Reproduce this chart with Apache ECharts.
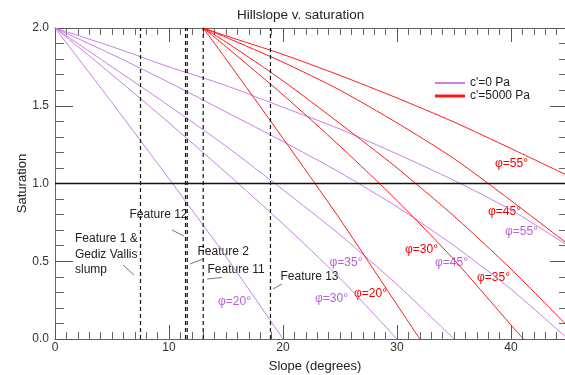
<!DOCTYPE html>
<html>
<head>
<meta charset="utf-8">
<script src="https://cdn.jsdelivr.net/npm/echarts@6/dist/echarts.min.js"></script>
<style>
  html, body { margin: 0; padding: 0; background: #fff; }
  #main { width: 565px; height: 375px; }
</style>
</head>
<body>
<div id="main"></div>
<script>
// c'=0 Pa curves (slope in degrees, saturation)
var slope0_20 = [0, 5, 10, 15, 20];
var sat0_20 = [2.0, 1.52, 1.03, 0.53, 0.0];
var slope0_30 = [0, 5, 10, 15, 20, 25, 30];
var sat0_30 = [2.0, 1.70, 1.39, 1.07, 0.74, 0.39, 0.0];
var slope0_35 = [0, 5, 10, 15, 20, 25, 30, 35];
var sat0_35 = [2.0, 1.75, 1.50, 1.24, 0.96, 0.67, 0.35, 0.0];
var slope0_45 = [0, 5, 10, 15, 20, 25, 30, 35, 40, 45];
var sat0_45 = [2.0, 1.83, 1.65, 1.46, 1.27, 1.07, 0.85, 0.60, 0.32, 0.0];
var slope0_55 = [0, 5, 10, 15, 20, 25, 30, 35, 40, 45];
var sat0_55 = [2.0, 1.88, 1.75, 1.63, 1.49, 1.35, 1.19, 1.02, 0.83, 0.60];

// c'=5000 Pa curves
var slope5_20 = [13, 15, 20, 25, 30, 32];
var sat5_20 = [2.0, 1.80, 1.29, 0.77, 0.22, 0.0];
var slope5_30 = [13, 15, 20, 25, 30, 35, 40, 41.1];
var sat5_30 = [2.0, 1.88, 1.57, 1.24, 0.89, 0.51, 0.09, 0.0];
var slope5_35 = [13, 15, 20, 25, 30, 35, 40, 45];
var sat5_35 = [2.0, 1.91, 1.66, 1.385, 1.10, 0.79, 0.45, 0.08];
var slope5_45 = [13, 15, 20, 25, 30, 35, 40, 45];
var sat5_45 = [2.0, 1.94, 1.78, 1.60, 1.39, 1.16, 0.89, 0.61];
var slope5_55 = [13, 15, 20, 25, 30, 35, 40, 45];
var sat5_55 = [2.0, 1.95, 1.83, 1.695, 1.55, 1.395, 1.225, 1.05];

// mapped features (slope, degrees)
var featureSlopes = [7.5, 11.45, 11.6, 13.0, 18.9];
var satLevel = 1.0;

var PURPLE = '#c97ee9';
var PURPLE_TXT = '#b462d8';
var RED = '#ff1a1a';
var RED_TXT = '#ee0000';
var FONT = 'Liberation Sans, Arial, sans-serif';

function pairs(xs, ys){
	var out = [];
	for (var i = 0; i < xs.length; i++) out.push([xs[i], ys[i]]);
	return out;
}

function curve(name, xs, ys, color){
	return {
		name: name, type: 'line', data: pairs(xs, ys),
		xAxisIndex: 0, yAxisIndex: 0,
		smooth: 0.25,
		showSymbol: false, symbol: 'none', silent: true,
		lineStyle: {color: color, width: 1},
		itemStyle: {color: color}
	};
}

var series = [
	curve("c'=0 Pa", slope0_20, sat0_20, PURPLE),
	curve("c'=0 Pa", slope0_30, sat0_30, PURPLE),
	curve("c'=0 Pa", slope0_35, sat0_35, PURPLE),
	curve("c'=0 Pa", slope0_45, sat0_45, PURPLE),
	curve("c'=0 Pa", slope0_55, sat0_55, PURPLE),
	curve("c'=5000 Pa", slope5_20, sat5_20, RED),
	curve("c'=5000 Pa", slope5_30, sat5_30, RED),
	curve("c'=5000 Pa", slope5_35, sat5_35, RED),
	curve("c'=5000 Pa", slope5_45, sat5_45, RED),
	curve("c'=5000 Pa", slope5_55, sat5_55, RED)
];

featureSlopes.forEach(function(s){
	series.push({
		type: 'line', silent: true, showSymbol: false, symbol: 'none',
		xAxisIndex: 0, yAxisIndex: 0,
		data: [[s, 0], [s, 2]],
		lineStyle: {color: '#111', width: 1.2, type: [4, 3]}
	});
});

series.push({
	type: 'line', silent: true, showSymbol: false, symbol: 'none',
	xAxisIndex: 0, yAxisIndex: 0,
	data: [[0, satLevel], [50, satLevel]],
	lineStyle: {color: '#111', width: 1.5}
});

function txt(s, x, y, color){
	return {
		type: 'text', x: x, y: y, silent: true,
		style: {text: s, fill: color || '#222', font: '12px ' + FONT, align: 'left', verticalAlign: 'middle'}
	};
}
function lead(x1, y1, x2, y2){
	return {
		type: 'line', silent: true,
		shape: {x1: x1, y1: y1, x2: x2, y2: y2},
		style: {stroke: '#777', lineWidth: 1}
	};
}

var xAxisBase = {
	type: 'value', min: 0, max: 50, interval: 10, gridIndex: 0,
	axisLine: {show: true, onZero: false, lineStyle: {color: '#666', width: 1}},
	axisTick: {show: true, inside: true, length: 14, lineStyle: {color: '#555'}},
	minorTick: {show: true, splitNumber: 10, length: 7, lineStyle: {color: '#666'}},
	splitLine: {show: false}
};
var yAxisBase = {
	type: 'value', min: 0, max: 2, interval: 0.5,
	axisLine: {show: true, onZero: false, lineStyle: {color: '#666', width: 1}},
	axisTick: {show: true, inside: true, length: 18, lineStyle: {color: '#555'}},
	minorTick: {show: true, splitNumber: 5, length: 9, lineStyle: {color: '#666'}},
	splitLine: {show: false}
};

var option = {
	animation: false,
	backgroundColor: '#fff',
	textStyle: {fontFamily: FONT},
	grid: [
		{left: 55, top: 28, width: 570, height: 311, outerBoundsMode: 'none', containLabel: false},
		// second grid only carries the right-hand tick marks (ends at slope 45)
		{left: 55, top: 28, width: 513, height: 311, outerBoundsMode: 'none', containLabel: false}
	],
	legend: {
		orient: 'vertical', left: 430, top: 72,
		itemWidth: 30, itemHeight: 3, itemGap: 1,
		textStyle: {fontSize: 12, color: '#222', lineHeight: 12, fontFamily: FONT},
		data: [
			{name: "c'=0 Pa", icon: 'path://M0,0h30v2h-30z', itemStyle: {color: PURPLE}},
			{name: "c'=5000 Pa", icon: 'path://M0,0h30v3h-30z', itemStyle: {color: RED}}
		]
	},
	xAxis: [
		Object.assign({}, xAxisBase, {
			position: 'bottom',
			name: 'Slope (degrees)', nameLocation: 'middle', nameGap: 21, nameMoveOverlap: false,
			nameTextStyle: {fontSize: 13, color: '#222', fontFamily: FONT, padding: [0, 50, 0, 0]},
			axisLabel: {margin: 3, fontSize: 12, color: '#333', fontFamily: FONT,
				formatter: function(v){ return v > 45 ? '' : String(v); }}
		}),
		Object.assign({}, xAxisBase, {position: 'top', axisLabel: {show: false}}),
		{type: 'value', gridIndex: 1, min: 0, max: 45, show: false}
	],
	yAxis: [
		Object.assign({}, yAxisBase, {
			gridIndex: 0, position: 'left',
			name: 'Saturation', nameLocation: 'middle', nameGap: 26, nameMoveOverlap: false,
			nameTextStyle: {fontSize: 13, color: '#222', fontFamily: FONT},
			axisLabel: {margin: 6, fontSize: 12, color: '#333', fontFamily: FONT,
				formatter: function(v){ return v.toFixed(1); }}
		}),
		Object.assign({}, yAxisBase, {gridIndex: 1, position: 'right', axisLabel: {show: false}})
	],
	series: series,
	graphic: [
		{
			type: 'text', x: 237, y: 15, silent: true,
			style: {text: 'Hillslope v. saturation', fill: '#222', font: '13.5px ' + FONT, align: 'left', verticalAlign: 'middle'}
		},
		{
			type: 'text', x: 75, y: 231, silent: true,
			style: {text: 'Feature 1 &\nGediz Vallis\nslump', fill: '#222', font: '12px ' + FONT, lineHeight: 15.5, align: 'left', verticalAlign: 'top'}
		},
		txt('Feature 12', 129.5, 215),
		txt('Feature 2', 197.5, 251.5),
		txt('Feature 11', 207.5, 270),
		txt('Feature 13', 280.5, 276.5),
		lead(123, 265, 134, 275),
		lead(172, 230, 184, 236),
		lead(190, 264, 203, 259),
		lead(207, 279, 222, 277.5),
		lead(273, 289, 282, 284),
		txt('φ=20°', 218, 301.5, PURPLE_TXT),
		txt('φ=30°', 315, 298.5, PURPLE_TXT),
		txt('φ=35°', 329.5, 262.5, PURPLE_TXT),
		txt('φ=45°', 435, 263, PURPLE_TXT),
		txt('φ=55°', 505, 231.5, PURPLE_TXT),
		txt('φ=20°', 354, 293.5, RED_TXT),
		txt('φ=30°', 405, 250, RED_TXT),
		txt('φ=35°', 477, 277.5, RED_TXT),
		txt('φ=45°', 488, 211.5, RED_TXT),
		txt('φ=55°', 495, 163.5, RED_TXT)
	]
};

var chart = echarts.init(document.getElementById('main'));
chart.setOption(option);
</script>
</body>
</html>
